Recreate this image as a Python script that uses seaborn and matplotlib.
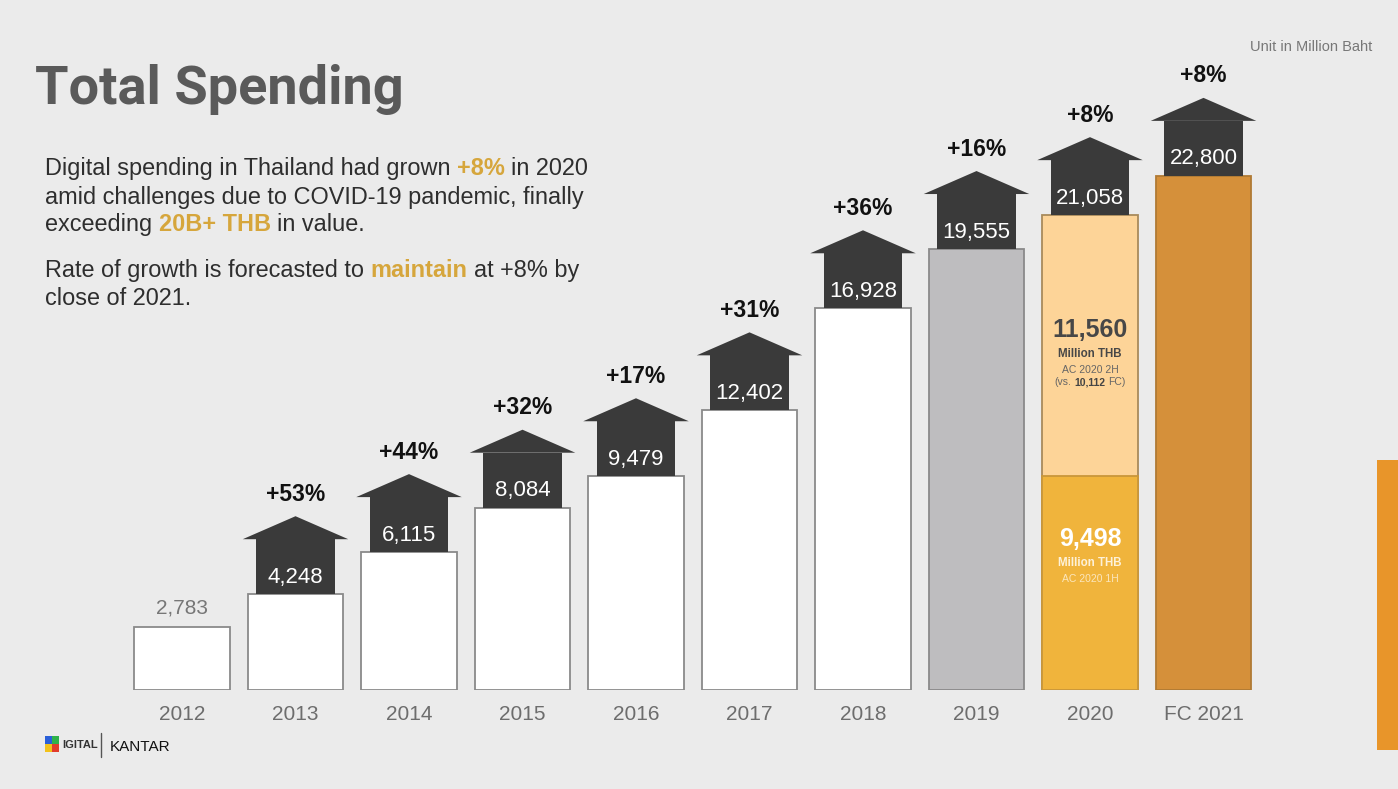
import matplotlib
matplotlib.use("Agg")
import matplotlib.pyplot as plt
import seaborn as sns
import pandas as pd
from matplotlib.patches import Polygon, Rectangle

# ---------------- data ----------------
years = ["2012", "2013", "2014", "2015", "2016", "2017", "2018", "2019", "2020", "FC 2021"]
totals = [2783, 4248, 6115, 8084, 9479, 12402, 16928, 19555, 21058, 22800]
growth = ["", "+53%", "+44%", "+32%", "+17%", "+31%", "+36%", "+16%", "+8%", "+8%"]
h1_2020 = 9498
h2_2020 = 11560
fc_2h_2020 = 10112

bar_colors = ["#ffffff"] * 7 + ["#bebdbf", "#fdd498", "#d5903a"]
edge_colors = ["#8a8a8a"] * 7 + ["#8a8a8a", "#a88a5c", "#b07a34"]

W, H = 1398, 789
BG = "#ebebeb"
FONT = "Liberation Sans"
GOLD = "#d6a63c"
ARROW = "#3a3a3a"

sns.set_theme(style="white")
plt.rcParams["font.family"] = [FONT, "DejaVu Sans"]

fig = plt.figure(figsize=(W / 100, H / 100), dpi=100, facecolor=BG)
renderer = fig.canvas.get_renderer()

# axes placed so that categories land where the reference bars are
ax = fig.add_axes([125.25 / W, 99 / H, 1135 / W, 690 / H])
ax.set_facecolor("none")
PX = 30599 / 690  # data units per pixel vertically

df = pd.DataFrame({"year": years, "total": totals})
sns.barplot(data=df, x="year", y="total", hue="year", palette=bar_colors,
            legend=False, width=0.84, saturation=1, ax=ax, linewidth=1.3)
for p, ec in zip(ax.patches, edge_colors):
    p.set_edgecolor(ec)

df_h1 = pd.DataFrame({"year": ["2020"], "value": [h1_2020]})
sns.barplot(data=df_h1, x="year", y="value", order=years, color="#f0b43c",
            width=0.84, saturation=1, ax=ax, linewidth=1.3, edgecolor="#c9973a")

ax.set_xlim(-0.5, len(years) - 0.5)
ax.set_ylim(0, 30599)
ax.set_xlabel("")
ax.set_ylabel("")
ax.set_yticks([])
for s in ax.spines.values():
    s.set_visible(False)
ax.tick_params(axis="x", length=0, pad=11, labelsize=15, labelcolor="#6d6d6d")

# arrows
body_w, head_w = 0.69, 0.93
body_h, head_h = 55 * PX, 23 * PX
for i, (tot, g) in enumerate(zip(totals, growth)):
    if g == "":
        ax.annotate(f"{tot:,}", xy=(i, tot), xytext=(0, 19 * 0.72), textcoords="offset points",
                    ha="center", va="center", fontsize=15, color="#777777")
        continue
    ax.add_patch(Rectangle((i - body_w / 2, tot), body_w, body_h, facecolor=ARROW,
                           edgecolor="none", zorder=3))
    ax.add_patch(Polygon([(i - head_w / 2, tot + body_h), (i + head_w / 2, tot + body_h),
                          (i, tot + body_h + head_h)], closed=True, facecolor=ARROW,
                         edgecolor="none", zorder=3))
    ax.annotate(f"{tot:,}", xy=(i, tot), xytext=(0, 17 * 0.72), textcoords="offset points",
                ha="center", va="center", fontsize=16, color="white", zorder=4)
    ax.annotate(g, xy=(i, tot + body_h + head_h), xytext=(0, 22 * 0.72),
                textcoords="offset points", ha="center", va="center", fontsize=16.5,
                fontweight="bold", color="#111111", zorder=4)


def space_w(size, weight):
    a = fig.text(0, 0, "x x", fontsize=size, fontweight=weight, family=FONT)
    b = fig.text(0, 0, "xx", fontsize=size, fontweight=weight, family=FONT)
    w = a.get_window_extent(renderer).width - b.get_window_extent(renderer).width
    a.remove(); b.remove()
    return w


def rich(x, y, segs, size, ha="left"):
    """segs: list of (text, color, weight); a space is put between segments.
    x, y in pixels from top-left; y is baseline."""
    texts, widths = [], []
    for s, c, wgt in segs:
        t = fig.text(0, 0, s, fontsize=size, color=c, fontweight=wgt, family=FONT,
                     ha="left", va="baseline")
        texts.append(t)
        widths.append(t.get_window_extent(renderer).width)
    sp = space_w(size, "normal")
    total = sum(widths) + sp * (len(segs) - 1)
    x0 = x - total / 2 if ha == "center" else x
    for t, w in zip(texts, widths):
        t.set_position((x0 / W, 1 - y / H))
        x0 += w + sp


# title
fig.text(35 / W, 1 - 104 / H, "Total Spending", fontsize=39, fontweight="bold",
         family="Roboto", color="#5a5a5a", ha="left", va="baseline")

# body text
TXT = "#2e2e2e"
BODY = 16.9
rich(45, 175, [("Digital spending in Thailand had grown", TXT, "normal"),
               ("+8%", GOLD, "bold"), ("in 2020", TXT, "normal")], BODY)
rich(45, 204, [("amid challenges due to COVID-19 pandemic, finally", TXT, "normal")], BODY)
rich(45, 231, [("exceeding", TXT, "normal"), ("20B+ THB", GOLD, "bold"),
               ("in value.", TXT, "normal")], BODY)
rich(45, 277, [("Rate of growth is forecasted to", TXT, "normal"),
               ("maintain", GOLD, "bold"), ("at +8% by", TXT, "normal")], BODY)
rich(45, 305, [("close of 2021.", TXT, "normal")], BODY)

fig.text(1372 / W, 1 - 51 / H, "Unit in Million Baht", fontsize=10.5, color="#777777",
         family=FONT, ha="right", va="baseline")

# 2020 inner annotations (anchored to the bar's data positions)
idx2020 = years.index("2020")
cx, top_y = ax.transData.transform((idx2020, h1_2020 + h2_2020))
_, mid_y = ax.transData.transform((idx2020, h1_2020))
top_px = H - top_y
mid_px = H - mid_y
cx_px = cx
rich(cx_px, top_px + 122, [(f"{h2_2020:,}", "#474747", "bold")], 18, ha="center")
rich(cx_px, top_px + 142, [("Million THB", "#474747", "bold")], 8.3, ha="center")
rich(cx_px, top_px + 158, [("AC 2020 2H", "#666666", "normal")], 7.5, ha="center")
rich(cx_px, top_px + 170, [("(vs.", "#666666", "normal"), (f"{fc_2h_2020:,}", "#444444", "bold"),
                           ("FC)", "#666666", "normal")], 7.5, ha="center")
rich(cx_px, mid_px + 70, [(f"{h1_2020:,}", "white", "bold")], 18, ha="center")
rich(cx_px, mid_px + 90, [("Million THB", "#fdf1d8", "bold")], 8.3, ha="center")
rich(cx_px, mid_px + 106, [("AC 2020 1H", "#fbe6bd", "normal")], 7.5, ha="center")

# decorations: right orange strip and logo
fig.patches.append(Rectangle((1377 / W, 1 - 750 / H), 21 / W, 290 / H,
                             transform=fig.transFigure, facecolor="#e8952a", edgecolor="none"))
logo_cols = ["#2a5fd8", "#2fb24a", "#f2c21b", "#e23b2b"]
for k, c in enumerate(logo_cols):
    fig.patches.append(Rectangle(((45 + (k % 2) * 7) / W, 1 - (744 + (k // 2) * 8) / H),
                                 7 / W, 8 / H, transform=fig.transFigure,
                                 facecolor=c, edgecolor="none"))
fig.text(62 / W, 1 - 748 / H, "IGITAL", fontsize=8, fontweight="bold", color="#333333",
         family=FONT, va="baseline")
fig.lines.append(plt.Line2D([101 / W, 101 / W], [1 - 733 / H, 1 - 757 / H],
                            transform=fig.transFigure, color="#555555", lw=1))
fig.text(110 / W, 1 - 751 / H, "KANTAR", fontsize=11, color="#111111",
         family=FONT, va="baseline")

fig.savefig("out.png", dpi=100, facecolor=BG)
